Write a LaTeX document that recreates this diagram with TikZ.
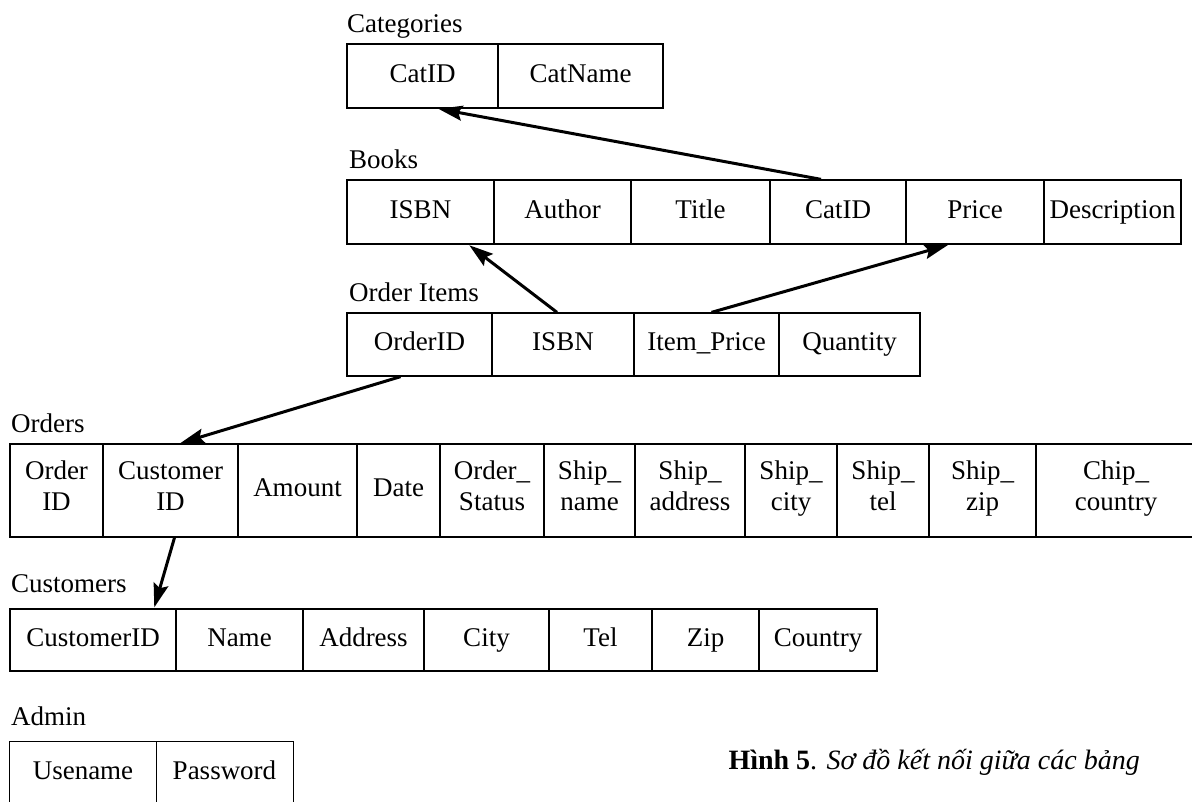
\documentclass[tikz,border=0pt]{standalone}
\usepackage{fontspec}
\setmainfont{Liberation Serif}
\usetikzlibrary{arrows.meta}
\newcommand\cell[7][]{\node[cellbox,#1, minimum width={(#4-#3)*1pt}, minimum height={(#6-#5)*1pt}] (#2) at ({(#3+#4)/2},{(#5+#6)/2}) {#7};}
\tikzset{
  cellbox/.style={draw, line width=1.3pt, inner sep=0pt, align=center, font=\fontsize{27}{31}\selectfont,
    execute at begin node=\strut, execute at end node=\strut},
  tlabel/.style={anchor=base west, inner sep=0pt, font=\fontsize{27}{31}\selectfont},
  conn/.style={line width=3pt, -{Stealth[length=24pt,width=15pt,inset=4pt]}, shorten >=1pt}
}
\begin{document}
\begin{tikzpicture}[x=1pt,y=-1pt]
\useasboundingbox (0,0) rectangle (1192,801);
% Categories
\node[tlabel] (lcat) at (347,32) {Categories};
\cell{cat1}{347}{498}{44}{108}{CatID}
\cell{cat2}{498}{663}{44}{108}{CatName}
% Books
\node[tlabel] (lbk) at (349,168) {Books};
\cell{bk1}{347}{494}{180}{244}{ISBN}
\cell{bk2}{494}{631}{180}{244}{Author}
\cell{bk3}{631}{770}{180}{244}{Title}
\cell{bk4}{770}{906}{180}{244}{CatID}
\cell{bk5}{906}{1044}{180}{244}{Price}
\cell{bk6}{1044}{1181}{180}{244}{Description}
% Order Items
\node[tlabel] (loi) at (349,301) {Order Items};
\cell{oi1}{347}{492}{313}{376}{OrderID}
\cell{oi2}{492}{634}{313}{376}{ISBN}
\cell{oi3}{634}{779}{313}{376}{Item\_Price}
\cell{oi4}{779}{920}{313}{376}{Quantity}
% Orders
\node[tlabel] (lord) at (11,432) {Orders};
\cell{or1}{10}{103}{444}{537}{Order\\ID}
\cell{or2}{103}{238}{444}{537}{Customer\\ID}
\cell{or3}{238}{357}{444}{537}{Amount}
\cell{or4}{357}{440}{444}{537}{Date}
\cell{or5}{440}{544}{444}{537}{Order\_\\Status}
\cell{or6}{544}{635}{444}{537}{Ship\_\\name}
\cell{or7}{635}{745}{444}{537}{Ship\_\\address}
\cell{or8}{745}{837}{444}{537}{Ship\_\\city}
\cell{or9}{837}{929}{444}{537}{Ship\_\\tel}
\cell{or10}{929}{1036}{444}{537}{Ship\_\\zip}
\cell{or11}{1036}{1196}{444}{537}{Chip\_\\country}
% Customers
\node[tlabel] (lcu) at (11,592) {Customers};
\cell{cu1}{10}{176}{609}{671}{CustomerID}
\cell{cu2}{176}{303}{609}{671}{Name}
\cell{cu3}{303}{424}{609}{671}{Address}
\cell{cu4}{424}{549}{609}{671}{City}
\cell{cu5}{549}{652}{609}{671}{Tel}
\cell{cu6}{652}{759}{609}{671}{Zip}
\cell{cu7}{759}{877}{609}{671}{Country}
% Admin
\node[tlabel] (lad) at (11,725) {Admin};
\cell[draw=none]{ad1}{10}{156}{742}{804}{Usename}
\cell[draw=none]{ad2}{156}{293}{742}{804}{Password}
\draw[line width=1.3pt] (ad1.south west) -- (ad1.north west) -- (ad2.north east) -- (ad2.south east);
\draw[line width=1.3pt] (ad1.north east) -- (ad1.south east);
% Caption
\node[anchor=base east, inner sep=0pt, font=\fontsize{28}{32}\selectfont] (cap) at (1140,769) {\textbf{Hình 5}. \textit{Sơ đồ kết nối giữa các bảng}};
% Connectors
\draw[conn] ([xshift=-17pt]bk4.north) -- ([xshift=15pt]cat1.south);
\draw[conn] ([xshift=-6pt]oi2.north) -- ([xshift=48pt]bk1.south);
\draw[conn] ([xshift=5pt]oi3.north) -- ([xshift=-26pt]bk5.south);
\draw[conn] ([xshift=-19pt]oi1.south) -- ([xshift=9pt]or2.north);
\draw[conn] ([xshift=4pt]or2.south) -- ([xshift=61pt]cu1.north);
\end{tikzpicture}
\end{document}
